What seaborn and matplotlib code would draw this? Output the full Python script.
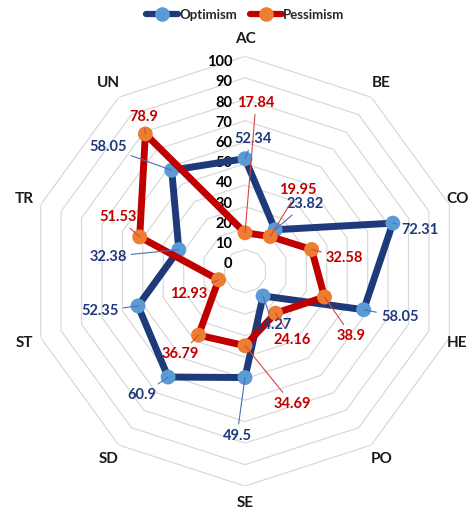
import numpy as np
import seaborn as sns
import matplotlib.pyplot as plt
from matplotlib.lines import Line2D

# Data
categories = ['AC', 'BE', 'CO', 'HE', 'PO', 'SE', 'SD', 'ST', 'TR', 'UN']
optimism = [52.34, 23.82, 72.31, 58.05, 14.27, 49.5, 60.9, 52.35, 32.38, 58.05]
pessimism = [17.84, 19.95, 32.58, 38.9, 24.16, 34.69, 36.79, 12.93, 51.53, 78.9]
ring_values = [0, 10, 20, 30, 40, 50, 60, 70, 80, 90, 100]

# label offsets from each point, in pixels (dx right, dy down)
opt_offsets = [(8, -20), (30, -26), (27, 7), (36, 7), (10, 29),
               (-8, 58), (-26, 18), (-38, 5), (-71, 7), (-64, -23)]
pes_offsets = [(11, -130), (28, -46), (33, 8), (27, 39), (17, 27),
               (47, 58), (-18, 19), (-30, 14), (-22, -20), (-2, -17)]

sns.set_theme(style="white")
plt.rcParams['font.family'] = ['Lato', 'DejaVu Sans']

navy = '#1F3A7A'
light_blue = '#5B9BD5'
red = '#C00000'
orange = '#ED7D31'

fig = plt.figure(figsize=(4.72, 5.16), dpi=100)
fig.patch.set_facecolor('white')
ax = fig.add_axes([0.0636, 0.058, 0.911, 0.833], projection='polar')
ax.set_theta_zero_location('N')
ax.set_theta_direction(-1)

n = len(categories)
theta = np.linspace(0, 2 * np.pi, n, endpoint=False)
theta_closed = np.append(theta, 2 * np.pi)

# decagon gridlines
for r in ring_values[1:]:
    ax.plot(theta_closed, [r] * (n + 1), color='#D9D9D9', lw=0.9, zorder=1)

# series
for vals, line_c, mark_c, z in [(optimism, navy, light_blue, 3),
                                (pessimism, red, orange, 5)]:
    closed = np.append(vals, vals[0])
    sns.lineplot(x=theta_closed, y=closed, sort=False, estimator=None,
                 color=line_c, lw=5, ax=ax, zorder=z)
    sns.scatterplot(x=theta, y=vals, color=mark_c, s=115, edgecolor='none',
                    ax=ax, zorder=z + 1)

ax.set_ylim(0, 100)
ax.grid(False)
ax.set_xticks([])
ax.set_yticks([])
ax.spines['polar'].set_visible(False)
ax.set_xlabel('')
ax.set_ylabel('')
ax.patch.set_alpha(0)

# radial tick labels along the top axis
for v in ring_values:
    ax.annotate(str(v), xy=(0, v), xytext=(-9, (7 - 0.13 * v) * 0.72),
                textcoords='offset points', ha='right', va='center',
                fontsize=10.5, fontweight='bold', color='black', zorder=2)

# category labels (CO and HE sit at the right edge, pulled inside the figure)
for t, c in zip(theta, categories):
    if c in ('CO', 'HE'):
        ax.annotate(c, xy=(t, 108), xytext=(-6, 0), textcoords='offset points',
                    ha='center', va='center', fontsize=11, fontweight='bold',
                    color='#1A1A1A', annotation_clip=False)
        continue
    ax.text(t, 108, c, ha='center', va='center', fontsize=11,
            fontweight='bold', color='#1A1A1A', clip_on=False)

# data labels with leader lines
for vals, offs, txt_c, lead_c in [(optimism, opt_offsets, navy, '#4A6FB5'),
                                  (pessimism, pes_offsets, red, '#D64545')]:
    for t, v, (dx, dy) in zip(theta, vals, offs):
        ax.annotate(f'{v:g}', xy=(t, v), xytext=(dx * 0.72, -dy * 0.72),
                    textcoords='offset points', ha='center', va='center',
                    fontsize=10.5, fontweight='bold', color=txt_c, zorder=10,
                    arrowprops=dict(arrowstyle='-', color=lead_c, lw=0.8,
                                    shrinkA=1, shrinkB=0))

handles = [Line2D([0], [0], color=navy, lw=4.5, marker='o', markersize=9.5,
                  markerfacecolor=light_blue, markeredgecolor=light_blue),
           Line2D([0], [0], color=red, lw=4.5, marker='o', markersize=9.5,
                  markerfacecolor=orange, markeredgecolor=orange)]
fig.legend(handles, ['Optimism', 'Pessimism'], loc='center',
           bbox_to_anchor=(0.52, 0.971), ncol=2, frameon=False,
           prop={'size': 9.5, 'weight': 'bold'}, handlelength=2.4,
           handletextpad=0.1, columnspacing=1.0)

plt.savefig('out.png', dpi=100)
